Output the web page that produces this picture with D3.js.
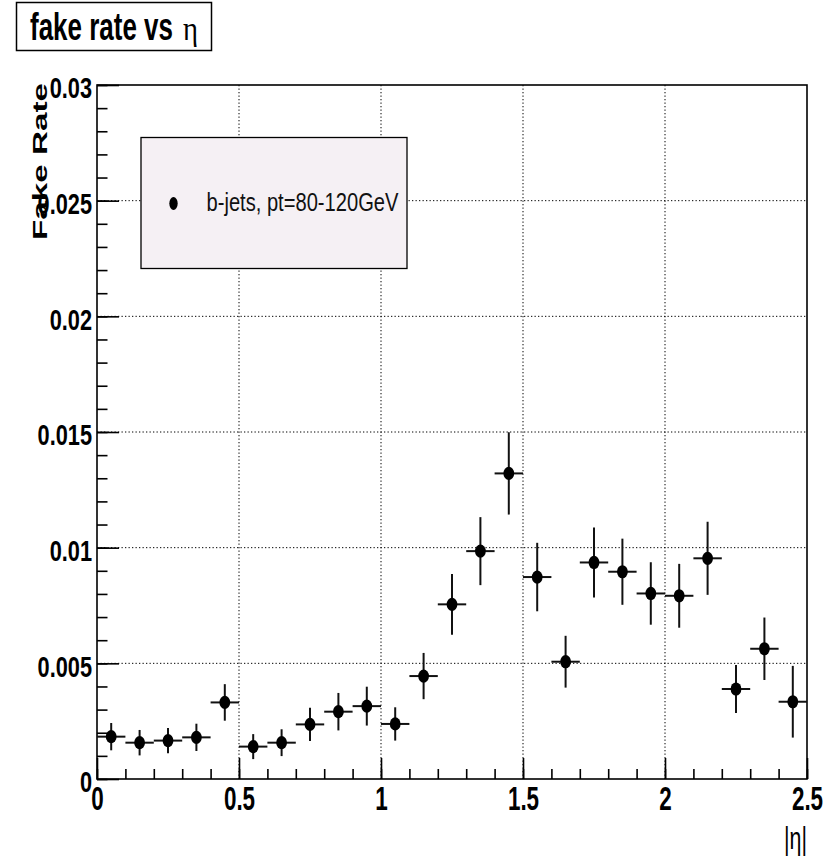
<!DOCTYPE html>
<html>
<head>
<meta charset="utf-8">
<script src="https://cdn.jsdelivr.net/npm/d3@7"></script>
<style>
  body { margin: 0; background: #fff; }
  svg { display: block; }
</style>
</head>
<body>
<svg id="chart" width="837" height="856"></svg>
<script>
// |eta| bins (0.1 wide), fake rate per bin and its statistical error
const etaBinCenters = [0.05, 0.15, 0.25, 0.35, 0.45, 0.55, 0.65, 0.75, 0.85, 0.95,
                       1.05, 1.15, 1.25, 1.35, 1.45, 1.55, 1.65, 1.75, 1.85, 1.95,
                       2.05, 2.15, 2.25, 2.35, 2.45];
const binHalfWidth = 0.05;
const fakeRate = [0.00183, 0.00157, 0.00166, 0.00180, 0.00331, 0.00140, 0.00157, 0.00236, 0.00291, 0.00315,
                  0.00238, 0.00445, 0.00755, 0.00985, 0.01321, 0.00873, 0.00507, 0.00936, 0.00896, 0.00802,
                  0.00792, 0.00954, 0.00389, 0.00563, 0.00334];
const fakeRateErr = [0.00059, 0.00055, 0.00055, 0.00059, 0.00079, 0.00054, 0.00058, 0.00072, 0.00081, 0.00084,
                     0.00072, 0.00100, 0.00131, 0.00147, 0.00178, 0.00148, 0.00112, 0.00151, 0.00143, 0.00135,
                     0.00138, 0.00158, 0.00104, 0.00135, 0.00155];

const xMajorTicks = [0, 0.5, 1, 1.5, 2, 2.5];
const xTickLabels = ["0", "0.5", "1", "1.5", "2", "2.5"];
const yMajorTicks = [0, 0.005, 0.01, 0.015, 0.02, 0.025, 0.03];
const yTickLabels = ["0", "0.005", "0.01", "0.015", "0.02", "0.025", "0.03"];
const xMinorStep = 0.1;
const yMinorStep = 0.001;

const titleText = "fake rate vs";
const titleSymbol = "η";
const xAxisTitle = "|η|";
const yAxisTitle = "Fake Rate";
const legendLabel = "b-jets, pt=80-120GeV";

// ---- layout ----
const frame = { left: 97, top: 85, right: 807, bottom: 779 };
const svg = d3.select("#chart");
const FONT = "'Liberation Sans', Arial, Helvetica, sans-serif";
const SERIF = "'Liberation Serif', 'DejaVu Serif', serif";

const x = d3.scaleLinear().domain([0, 2.5]).range([frame.left, frame.right]);
const y = d3.scaleLinear().domain([0, 0.03]).range([frame.bottom, frame.top]);

// Narrow the glyphs horizontally about the text's own anchor point
function squeeze(sel, factor) {
  sel.each(function () {
    const x0 = +(this.getAttribute("x") || 0);
    this.setAttribute("x", x0 / factor);
    const t = this.getAttribute("transform") || "";
    this.setAttribute("transform", `${t} scale(${factor},1)`.trim());
  });
}
// Place a text at (px,py) [optionally rotated] and scale it to a given run length
function fitText(node, px, py, length, rotate) {
  const w = node.getComputedTextLength();
  node.setAttribute("x", 0);
  node.setAttribute("y", 0);
  node.setAttribute("transform",
    `translate(${px},${py})${rotate ? ` rotate(${rotate})` : ""} scale(${length / w},1)`);
}

// ---- grid (dotted, at major ticks) ----
const grid = svg.append("g").attr("stroke", "#000").attr("stroke-width", 1)
  .attr("stroke-dasharray", "1.3,2.2");
grid.selectAll("line.gx")
  .data(xMajorTicks.filter(v => v > 0 && v < 2.5))
  .join("line")
  .attr("x1", d => x(d)).attr("x2", d => x(d))
  .attr("y1", frame.top).attr("y2", frame.bottom);
grid.selectAll("line.gy")
  .data(yMajorTicks.filter(v => v > 0 && v < 0.03))
  .join("line")
  .attr("x1", frame.left).attr("x2", frame.right)
  .attr("y1", d => y(d)).attr("y2", d => y(d));

// ---- frame ----
svg.append("rect")
  .attr("x", frame.left).attr("y", frame.top)
  .attr("width", frame.right - frame.left).attr("height", frame.bottom - frame.top)
  .attr("fill", "none").attr("stroke", "#000").attr("stroke-width", 1.6);

// ---- axes ----
const xMinor = d3.range(0, 2.5 + 1e-9, xMinorStep);
const yMinor = d3.range(0, 0.03 + 1e-9, yMinorStep);

svg.append("g")
  .attr("transform", `translate(0,${frame.bottom})`)
  .call(d3.axisBottom(x).tickValues(xMinor).tickSize(-10).tickFormat(""))
  .call(g => g.select(".domain").remove());
const xAxis = svg.append("g")
  .attr("transform", `translate(0,${frame.bottom})`)
  .call(d3.axisBottom(x).tickValues(xMajorTicks).tickSize(-21).tickPadding(8)
    .tickFormat((d, i) => xTickLabels[i]))
  .call(g => g.select(".domain").remove());

svg.append("g")
  .attr("transform", `translate(${frame.left},0)`)
  .call(d3.axisLeft(y).tickValues(yMinor).tickSize(-10.5).tickFormat(""))
  .call(g => g.select(".domain").remove());
const yAxis = svg.append("g")
  .attr("transform", `translate(${frame.left},0)`)
  .call(d3.axisLeft(y).tickValues(yMajorTicks).tickSize(-22).tickPadding(5)
    .tickFormat((d, i) => yTickLabels[i]))
  .call(g => g.select(".domain").remove());

svg.selectAll(".tick line").attr("stroke", "#000").attr("stroke-width", 1.6);

xAxis.selectAll("text")
  .attr("font-family", FONT).attr("font-weight", "bold").attr("font-size", 33)
  .attr("fill", "#000").attr("dy", "0.71em");
yAxis.selectAll("text")
  .attr("font-family", FONT).attr("font-weight", "bold").attr("font-size", 29)
  .attr("fill", "#000").attr("dy", "0.44em");
squeeze(xAxis.selectAll("text"), 0.68);
squeeze(yAxis.selectAll("text"), 0.75);

// ---- axis titles ----
const xt = svg.append("text")
  .attr("text-anchor", "end")
  .attr("font-family", FONT).attr("font-size", 31).attr("fill", "#000")
  .text(xAxisTitle);
fitText(xt.node(), frame.right, 849, 23);

const yt = svg.append("text")
  .attr("text-anchor", "end")
  .attr("font-family", FONT).attr("font-weight", "bold").attr("font-size", 21)
  .attr("fill", "#000")
  .text(yAxisTitle);
fitText(yt.node(), 47, frame.top - 2, 157, -90);

// ---- title box ----
svg.append("rect")
  .attr("x", 16.5).attr("y", 2.5).attr("width", 195).attr("height", 48)
  .attr("fill", "#fff").attr("stroke", "#000").attr("stroke-width", 1.5);
const tt = svg.append("text")
  .attr("font-family", FONT).attr("font-weight", "bold").attr("font-size", 38)
  .attr("fill", "#000")
  .text(titleText);
fitText(tt.node(), 30, 39.5, 143);
const ts = svg.append("text")
  .attr("font-family", SERIF).attr("font-size", 34)
  .attr("fill", "#000")
  .text(titleSymbol);
fitText(ts.node(), 183, 40, 15);

// ---- legend ----
const legend = svg.append("g");
legend.append("rect")
  .attr("x", 141).attr("y", 137.5).attr("width", 266).attr("height", 131)
  .attr("fill", "#f5f0f4").attr("stroke", "#000").attr("stroke-width", 1.3);
legend.append("ellipse")
  .attr("cx", 173.5).attr("cy", 203.5).attr("rx", 4.2).attr("ry", 6.5)
  .attr("fill", "#000");
const lt = legend.append("text")
  .attr("font-family", FONT).attr("font-size", 26).attr("fill", "#111")
  .text(legendLabel);
fitText(lt.node(), 206.5, 211, 192);

// ---- data: error bars + markers ----
const points = etaBinCenters.map((c, i) => ({ c, v: fakeRate[i], e: fakeRateErr[i] }));
const pts = svg.append("g").attr("stroke", "#111").attr("stroke-width", 2);
pts.selectAll("line.h").data(points).join("line")
  .attr("x1", d => x(d.c - binHalfWidth)).attr("x2", d => x(d.c + binHalfWidth))
  .attr("y1", d => y(d.v)).attr("y2", d => y(d.v));
pts.selectAll("line.v").data(points).join("line")
  .attr("x1", d => x(d.c)).attr("x2", d => x(d.c))
  .attr("y1", d => y(d.v - d.e)).attr("y2", d => y(d.v + d.e));
svg.append("g").selectAll("ellipse").data(points).join("ellipse")
  .attr("cx", d => x(d.c)).attr("cy", d => y(d.v))
  .attr("rx", 5.4).attr("ry", 6.6).attr("fill", "#000");
</script>
</body>
</html>
